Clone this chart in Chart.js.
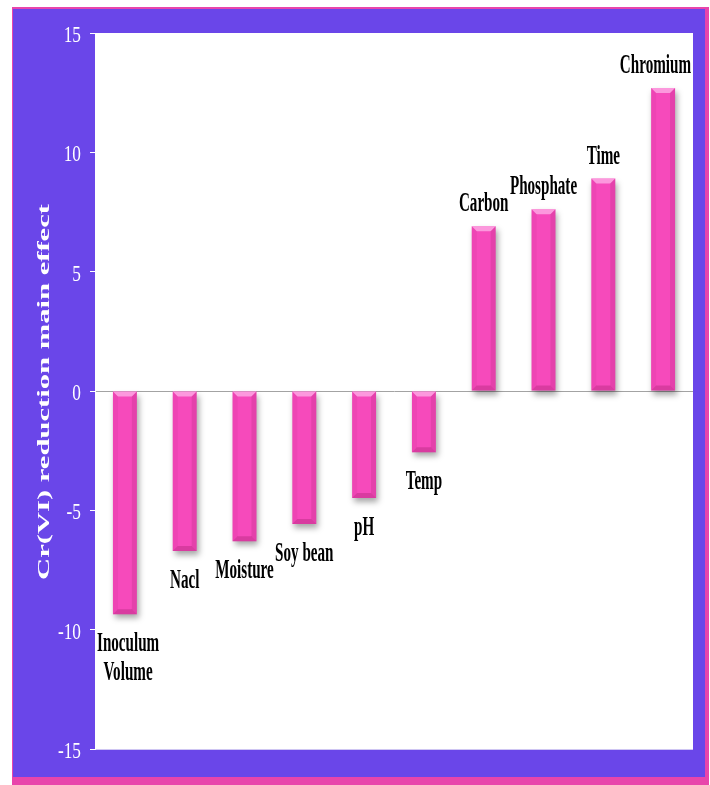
<!DOCTYPE html>
<html>
<head>
<meta charset="utf-8">
<script src="https://cdn.jsdelivr.net/npm/chart.js@4/dist/chart.umd.min.js"></script>
<style>
  html, body { margin: 0; padding: 0; background: #ffffff; }
  canvas { display: block; }
</style>
</head>
<body>
<canvas id="myChart" width="710" height="785"></canvas>
<script>
// factors and their main effect on Cr(VI) reduction
const factorNames = [['Inoculum', 'Volume'], 'Nacl', 'Moisture', 'Soy bean', 'pH', 'Temp',
                     'Carbon', 'Phosphate', 'Time', 'Chromium'];
const mainEffects = [-9.35, -6.7, -6.3, -5.57, -4.48, -2.57, 6.9, 7.62, 8.9, 12.7];
const yTicks = [-15, -10, -5, 0, 5, 10, 15];
const yTitle = 'Cr(VI) reduction main effect';

const purple = '#6a46e9';
const pink = '#e845ab';
const barPink = '#f64abb';
const serif = '"Liberation Serif", "Times New Roman", serif';

// text squeezed sideways, the way the old chart image shows it
function squeezedText(ctx, txt, x, y, sx) {
    ctx.save();
    ctx.translate(x, y);
    ctx.scale(sx, 1);
    ctx.fillText(txt, 0, 0);
    ctx.restore();
}

const panelPlugin = {
    id: 'panel',
    beforeDraw(chart) {
        const ctx = chart.ctx;
        const a = chart.chartArea;
        ctx.save();
        ctx.fillStyle = '#ffffff';
        ctx.fillRect(0, 0, chart.width, chart.height);
        ctx.fillStyle = pink;
        ctx.fillRect(12, 7, 697, 778);
        ctx.fillStyle = purple;
        ctx.fillRect(13, 9, 692, 768);
        ctx.fillStyle = '#ffffff';
        ctx.fillRect(a.left, a.top, a.right - a.left, a.bottom - a.top);
        ctx.strokeStyle = '#cfc6f3';
        ctx.lineWidth = 1;
        ctx.beginPath();
        ctx.moveTo(a.left, a.bottom + 0.5);
        ctx.lineTo(a.right, a.bottom + 0.5);
        ctx.stroke();
        ctx.restore();
    },
    beforeDatasetsDraw(chart) {
        const ctx = chart.ctx;
        ctx.save();
        ctx.shadowColor = 'rgba(0,0,0,0.35)';
        ctx.shadowBlur = 6;
        ctx.shadowOffsetX = 2;
        ctx.shadowOffsetY = 4;
    },
    afterDatasetsDraw(chart) {
        const ctx = chart.ctx;
        ctx.restore();

        // bevel shading on each bar
        const meta = chart.getDatasetMeta(0);
        meta.data.forEach(bar => {
            const w = bar.width;
            const L = bar.x - w / 2, R = bar.x + w / 2;
            const top = Math.min(bar.y, bar.base), bot = Math.max(bar.y, bar.base);
            const b = 5;
            const quad = (pts, col) => {
                ctx.fillStyle = col;
                ctx.beginPath();
                ctx.moveTo(pts[0][0], pts[0][1]);
                for (let k = 1; k < pts.length; k++) ctx.lineTo(pts[k][0], pts[k][1]);
                ctx.closePath();
                ctx.fill();
            };
            ctx.save();
            quad([[L, top], [R, top], [R - b, top + b], [L + b, top + b]], 'rgba(255,185,235,0.7)');
            quad([[L, bot], [R, bot], [R - b, bot - b], [L + b, bot - b]], 'rgba(150,25,100,0.3)');
            quad([[L, top], [L + b, top + b], [L + b, bot - b], [L, bot]], 'rgba(170,25,115,0.1)');
            quad([[R, top], [R - b, top + b], [R - b, bot - b], [R, bot]], 'rgba(150,25,100,0.18)');
            ctx.restore();
        });
    },
    afterDraw(chart) {
        const ctx = chart.ctx;
        const a = chart.chartArea;
        const yScale = chart.scales.y;
        ctx.save();

        // y tick labels
        ctx.fillStyle = '#ffffff';
        ctx.font = '24px ' + serif;
        ctx.textAlign = 'right';
        ctx.textBaseline = 'alphabetic';
        yTicks.forEach(v => {
            squeezedText(ctx, String(v), 81, yScale.getPixelForValue(v) + 9, 0.72);
        });

        // y axis title
        ctx.font = 'bold 17px ' + serif;
        ctx.textAlign = 'center';
        ctx.textBaseline = 'middle';
        ctx.save();
        ctx.translate(45, yScale.getPixelForValue(0) + 1);
        ctx.rotate(-Math.PI / 2);
        ctx.scale(1.8, 1);
        ctx.fillText(yTitle, 0, 0);
        ctx.restore();

        // factor names at the end of each bar
        const sx = 0.54;
        ctx.fillStyle = '#000000';
        ctx.font = 'bold 28px ' + serif;
        ctx.textAlign = 'center';
        ctx.textBaseline = 'alphabetic';
        const meta = chart.getDatasetMeta(0);
        meta.data.forEach((bar, i) => {
            const name = factorNames[i];
            const lines = Array.isArray(name) ? name : [name];
            const w = Math.max(...lines.map(t => ctx.measureText(t).width)) * sx;
            let cx = bar.x;
            cx = Math.min(cx, a.right - 2 - w / 2);
            cx = Math.max(cx, a.left + 2 + w / 2);
            const lineH = 29;
            if (mainEffects[i] < 0) {
                lines.forEach((t, k) => squeezedText(ctx, t, cx, bar.y + 37 + k * lineH, sx));
            } else {
                const first = bar.y - 15 - (lines.length - 1) * lineH;
                lines.forEach((t, k) => squeezedText(ctx, t, cx, first + k * lineH, sx));
            }
        });
        ctx.restore();
    }
};

const data = {
    labels: factorNames,
    datasets: [{
        label: 'Main effect',
        data: mainEffects,
        backgroundColor: barPink,
        borderWidth: 0,
        categoryPercentage: 1,
        barPercentage: 0.4
    }]
};

const ctx = document.getElementById('myChart');

const myChart = new Chart(ctx, {
    type: 'bar',
    data: data,
    options: {
        responsive: false,
        animation: false,
        layout: { padding: { top: 33, bottom: 36, right: 17, left: 0 } },
        plugins: {
            legend: { display: false },
            tooltip: { enabled: false }
        },
        scales: {
            x: { display: false },
            y: {
                min: -15,
                max: 15,
                afterFit(scale) { scale.width = 95; },
                ticks: { display: false, stepSize: 5 },
                grid: {
                    color: c => c.tick && c.tick.value === 0 ? '#a3a3a3' : 'rgba(0,0,0,0)',
                    lineWidth: 1,
                    drawTicks: true,
                    tickLength: 5,
                    tickColor: '#ffffff'
                },
                border: { display: true, color: 'rgba(255,255,255,0.9)' },
                title: { display: false }
            }
        }
    },
    plugins: [panelPlugin]
});
</script>
</body>
</html>
